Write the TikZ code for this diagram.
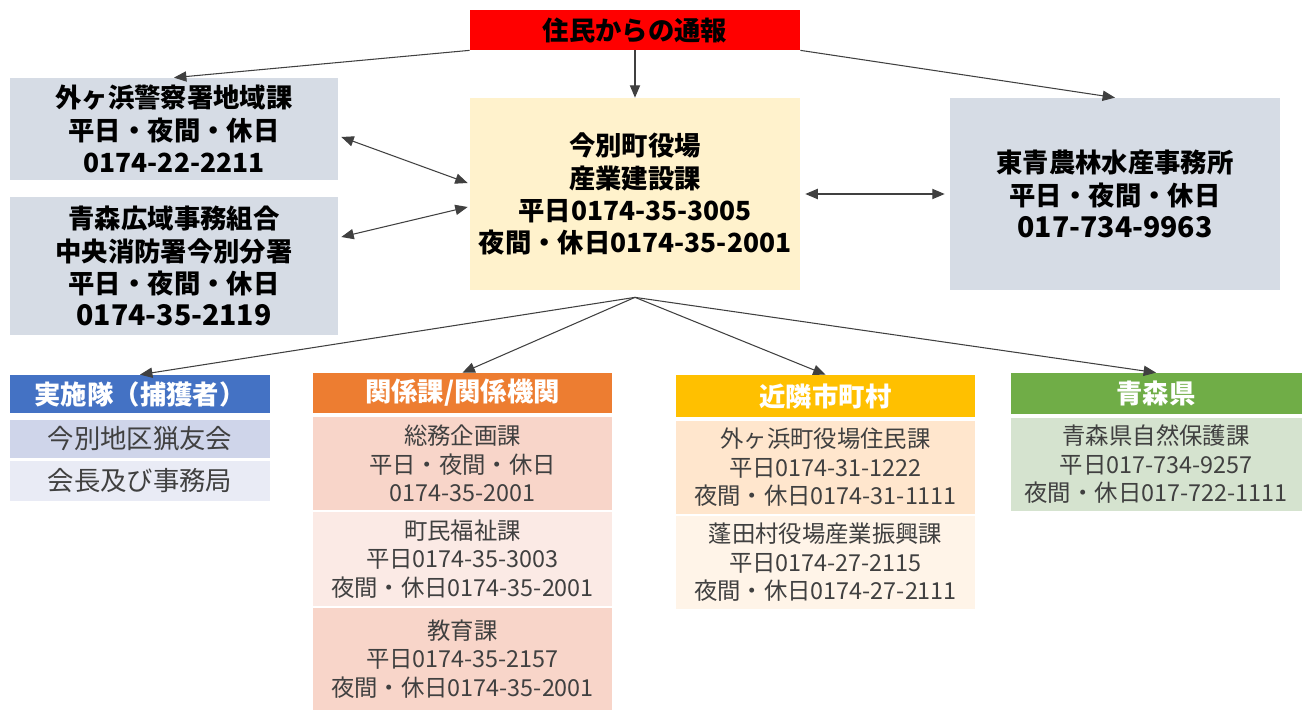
\documentclass[tikz,border=0pt]{standalone}
\usepackage{fontspec}
\setmainfont{Noto Sans CJK JP}
\usepackage{tikz}
\usetikzlibrary{arrows, calc}

\definecolor{tsuhored}{HTML}{FF0000}
\definecolor{grayblue}{HTML}{D6DCE5}
\definecolor{townyellow}{HTML}{FFF2CC}
\definecolor{bluehead}{HTML}{4472C4}
\definecolor{bluerowa}{HTML}{CFD5EA}
\definecolor{bluerowb}{HTML}{E9EBF5}
\definecolor{orangehead}{HTML}{ED7D31}
\definecolor{orangerowa}{HTML}{F8D5C9}
\definecolor{orangerowb}{HTML}{FBEAE5}
\definecolor{goldhead}{HTML}{FFC000}
\definecolor{goldrowa}{HTML}{FFE6CD}
\definecolor{goldrowb}{HTML}{FFF4E8}
\definecolor{greenhead}{HTML}{70AD47}
\definecolor{greenrow}{HTML}{D5E3CF}

\newcommand{\bigtext}{\fontsize{15}{18.3}\selectfont\bfseries}
\newcommand{\bignum}{\fontsize{16.2}{18.3}\selectfont}
\newcommand{\headtext}{\fontsize{15}{17}\selectfont\bfseries}
\newcommand{\celltext}{\fontsize{13.3}{16.2}\selectfont}
\newcommand{\hunttext}{\fontsize{15}{17}\selectfont}

\begin{document}
\begin{tikzpicture}[every text node part/.style={align=center}]

\tikzstyle{box}=[inner sep=0pt, text=black]
\tikzstyle{bigbox}=[box, font=\bigtext, minimum width=6.6cm]
\tikzstyle{head}=[box, font=\headtext, text=white]
\tikzstyle{cell}=[box, font=\celltext, text=black!75]
\tikzstyle{arr}=[draw, line width=0.6pt, black!75, -triangle 45]
\tikzstyle{biarr}=[draw, line width=0.6pt, black!75, triangle 45-triangle 45]

\useasboundingbox (0,0) rectangle (26.18,14.22);

% top row
\node (tsuho) [bigbox, fill=tsuhored, minimum height=0.8cm] at (12.70, 13.62) {住民からの通報};

\node (police) [bigbox, fill=grayblue, minimum width=6.56cm, minimum height=2.04cm] at (3.48, 11.64)
{外ヶ浜警察署地域課\\平日・夜間・休日\\0174-22-2211};
\node (fire) [bigbox, fill=grayblue, minimum width=6.56cm, minimum height=2.76cm] at (3.48, 8.90)
{青森広域事務組合\\中央消防署今別分署\\平日・夜間・休日\\{\bignum 0174-35-2119}};

\node (town) [bigbox, fill=townyellow, minimum height=3.84cm] at (12.70, 10.34)
{今別町役場\\産業建設課\\平日0174-35-3005\\夜間・休日0174-35-2001};
\node (agri) [bigbox, fill=grayblue, minimum height=3.84cm] at (22.30, 10.34)
{東青農林水産事務所\\平日・夜間・休日\\{\bignum 017-734-9963}};

% bottom row
\node (jisshi) [head, fill=bluehead, minimum width=5.2cm, minimum height=0.76cm] at (2.80, 6.34) {実施隊（捕獲者）};
\node (jisshi1) [cell, font=\hunttext, fill=bluerowa, minimum width=5.2cm, minimum height=0.76cm] at (2.80, 5.44) {今別地区猟友会};
\node (jisshi2) [cell, font=\hunttext, fill=bluerowb, minimum width=5.2cm, minimum height=0.80cm] at (2.80, 4.60) {会長及び事務局};

\node (kankei) [head, fill=orangehead, minimum width=5.98cm, minimum height=0.80cm] at (9.25, 6.36) {関係課/関係機関};
\node (kankei1) [cell, fill=orangerowa, minimum width=5.98cm, minimum height=1.86cm] at (9.25, 4.95)
{総務企画課\\平日・夜間・休日\\0174-35-2001};
\node (kankei2) [cell, fill=orangerowb, minimum width=5.98cm, minimum height=1.88cm] at (9.25, 3.04)
{町民福祉課\\平日0174-35-3003\\夜間・休日0174-35-2001};
\node (kankei3) [cell, fill=orangerowa, minimum width=5.98cm, minimum height=2.04cm] at (9.25, 1.04)
{教育課\\平日0174-35-2157\\夜間・休日0174-35-2001};

\node (kinrin) [head, fill=goldhead, minimum width=5.98cm, minimum height=0.84cm] at (16.51, 6.30) {近隣市町村};
\node (kinrin1) [cell, fill=goldrowa, minimum width=5.98cm, minimum height=1.86cm] at (16.51, 4.87)
{外ヶ浜町役場住民課\\平日0174-31-1222\\夜間・休日0174-31-1111};
\node (kinrin2) [cell, fill=goldrowb, minimum width=5.98cm, minimum height=1.86cm] at (16.51, 2.97)
{蓬田村役場産業振興課\\平日0174-27-2115\\夜間・休日0174-27-2111};

\node (aomori) [head, fill=greenhead, minimum width=5.82cm, minimum height=0.82cm] at (23.12, 6.35) {青森県};
\node (aomori1) [cell, fill=greenrow, minimum width=5.82cm, minimum height=1.86cm] at (23.12, 4.93)
{青森県自然保護課\\平日017-734-9257\\夜間・休日017-722-1111};

% connectors
\path [arr] (tsuho.south west) -- (police.north);
\path [arr] (tsuho.south) -- (town.north);
\path [arr] (tsuho.south east) -- (agri.north);

\path [biarr] ($(police.east)+(0.06,-0.16)$) -- ($(town.west)+(-0.04,0.22)$);
\path [biarr] ($(fire.east)+(0.06,0.58)$) -- ($(town.west)+(-0.04,-0.26)$);
\path [biarr] ($(town.east)+(0.1,0)$) -- ($(agri.west)+(-0.1,0)$);

\coordinate (hub) at ($(town.south)+(0,-0.14)$);
\path [arr] (hub) -- (jisshi.north);
\path [arr] (hub) -- (kankei.north);
\path [arr] (hub) -- (kinrin.north);
\path [arr] (hub) -- (aomori.north);

\end{tikzpicture}
\end{document}
